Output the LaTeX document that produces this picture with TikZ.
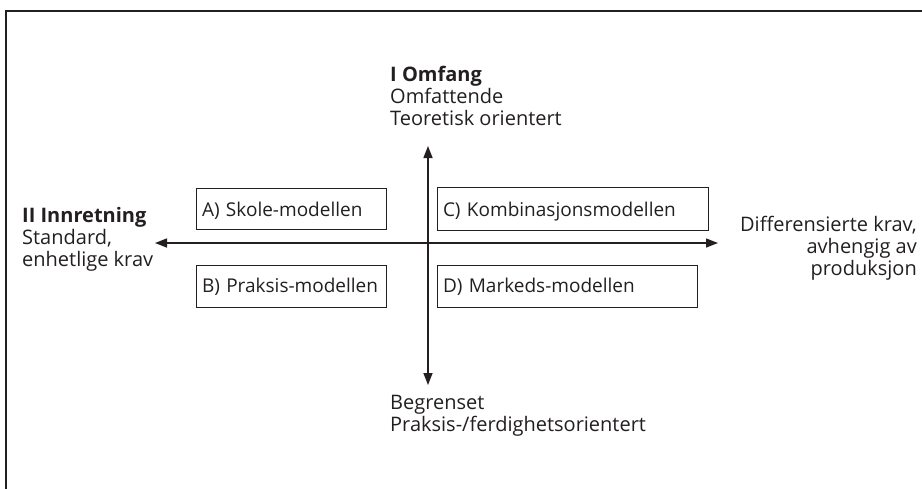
\documentclass[tikz,border=0pt]{standalone}
\usepackage{fontspec}
\setmainfont{Open Sans}
\usetikzlibrary{arrows.meta}
\definecolor{ink}{HTML}{231F20}
\begin{document}
\begin{tikzpicture}[x=1pt,y=-1pt,
  lbl/.style={inner sep=0pt, font=\fontsize{20}{22}\selectfont, text=ink},
  head/.style={lbl, font=\fontsize{20}{22}\selectfont\bfseries},
  box/.style={draw=ink, line width=1pt, inner ysep=0pt, inner xsep=6pt, align=left,
    font=\fontsize{19}{22}\selectfont, text=ink},
  upper/.style={text height=17pt, text depth=1pt},
  lower/.style={text height=15pt, text depth=3pt},
  axis/.style={draw=ink, line width=1.4pt,
    {Triangle[length=12pt,width=9pt]}-{Triangle[length=12pt,width=9pt]}},
  frame/.style={draw=ink, line width=2pt}]
\useasboundingbox (0,0) rectangle (922,488);
% frame
\coordinate (fb) at (6,489);
\coordinate (ftl) at (6,11);
\coordinate (ftr) at (923,11);
\draw[frame] (fb) -- (ftl) -- (ftr);
% axes
\coordinate (up) at (428,146);
\coordinate (down) at (428,385);
\coordinate (left) at (155,243);
\coordinate (right) at (718,243);
\draw[axis] (up) -- (down);
\draw[axis] (left) -- (right);
% boxes
\node[box, upper, text width=178pt, minimum height=41pt] (A) at (291,208.5) {\mbox{A) Skole-modellen}};
\node[box, upper, text width=259pt, minimum height=43pt] (C) at (572.5,208.5) {\mbox{C) Kombinasjonsmodellen}};
\node[box, lower, text width=178pt, minimum height=42pt] (B) at (291,286) {\mbox{B) Praksis-modellen}};
\node[box, lower, text width=248pt, minimum height=42pt] (D) at (567,286) {\mbox{D) Markeds-modellen}};
% top labels
\node[head, anchor=base west] (t1) at (390,81) {I Omfang};
\node[lbl, anchor=base west] (t2) at (390,103) {Omfattende};
\node[lbl, anchor=base west] (t3) at (390,125) {Teoretisk orientert};
% left labels
\node[head, anchor=base west] (l1) at (22,222) {II Innretning};
\node[lbl, anchor=base west] (l2) at (22,244) {Standard,};
\node[lbl, anchor=base west] (l3) at (22,266) {enhetlige krav};
% right labels
\node[lbl, anchor=base east] (r1) at (917,231) {Differensierte krav,};
\node[lbl, anchor=base east] (r2) at (917,253) {avhengig av};
\node[lbl, anchor=base east] (r3) at (917,275) {produksjon};
% bottom labels
\node[lbl, anchor=base west] (b1) at (390,409) {Begrenset};
\node[lbl, anchor=base west] (b2) at (390,431) {Praksis-/ferdighetsorientert};
\end{tikzpicture}
\end{document}
